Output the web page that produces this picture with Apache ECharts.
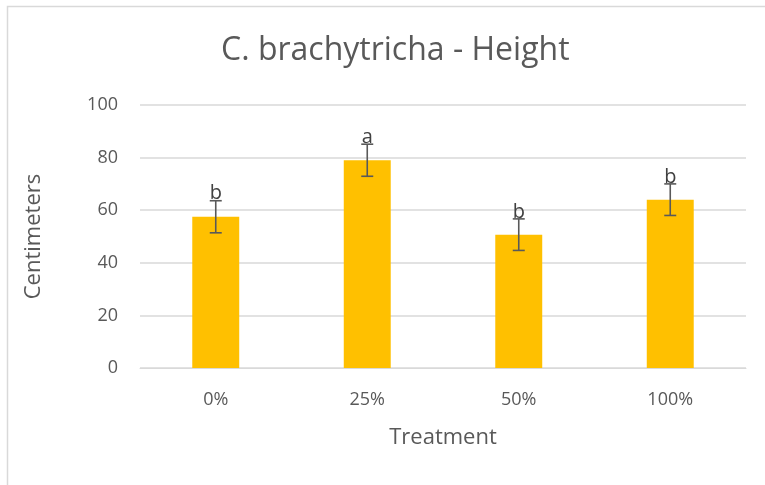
<!DOCTYPE html>
<html>
<head>
<meta charset="utf-8">
<script src="https://cdn.jsdelivr.net/npm/echarts@6/dist/echarts.min.js"></script>
<style>
    html, body { margin: 0; padding: 0; background: #fff; }
    #chart { width: 765px; height: 485px; }
</style>
</head>
<body>
<div id="chart"></div>
<script>
    // data
    var treatments = ['0%', '25%', '50%', '100%'];
    var heights = [57.5, 79, 50.7, 64];
    var errors = [6.1, 6.1, 6, 6];
    var letters = ['b', 'a', 'b', 'b'];

    var chart = echarts.init(document.getElementById('chart'));
    var font = 'Open Sans';

    var errData = treatments.map(function (t, i) {
        return [i, heights[i] - errors[i], heights[i] + errors[i], letters[i]];
    });

    chart.setOption({
        animation: false,
        textStyle: { fontFamily: font },
        title: {
            text: 'C. brachytricha - Height',
            left: 216,
            top: 30,
            textStyle: { fontFamily: font, fontSize: 32, fontWeight: 'normal', color: '#595959' }
        },
        graphic: [{
            type: 'rect',
            shape: { x: 7.5, y: 6.5, width: 800, height: 520 },
            style: { fill: 'none', stroke: '#d9d9d9', lineWidth: 1.5 },
            silent: true
        }],
        grid: { left: 140, right: 19, top: 105, bottom: 117 },
        xAxis: {
            type: 'category',
            data: treatments,
            name: 'Treatment',
            nameLocation: 'middle',
            nameGap: 59,
            nameTextStyle: { fontSize: 22, color: '#595959' },
            axisLine: { lineStyle: { color: '#d9d9d9' } },
            axisTick: { show: false },
            axisLabel: { fontSize: 18, color: '#595959', margin: 23 }
        },
        yAxis: {
            type: 'value',
            min: 0,
            max: 100,
            interval: 20,
            name: 'Centimeters',
            nameLocation: 'middle',
            nameGap: 95,
            nameTextStyle: { fontSize: 22, color: '#595959' },
            axisLine: { show: false },
            axisTick: { show: false },
            axisLabel: { fontSize: 18, color: '#595959', margin: 22 },
            splitLine: { lineStyle: { color: '#d9d9d9', width: 1.5 } }
        },
        series: [
            {
                type: 'bar',
                data: heights,
                barWidth: '31%',
                itemStyle: { color: '#ffc000' }
            },
            {
                type: 'custom',
                data: errData,
                z: 10,
                renderItem: function (params, api) {
                    var lo = api.coord([api.value(0), api.value(1)]);
                    var hi = api.coord([api.value(0), api.value(2)]);
                    var cap = 6;
                    var st = { stroke: '#595959', lineWidth: 1.6 };
                    return {
                        type: 'group',
                        children: [
                            { type: 'line', shape: { x1: hi[0], y1: hi[1], x2: lo[0], y2: lo[1] }, style: st },
                            { type: 'line', shape: { x1: hi[0] - cap, y1: hi[1], x2: hi[0] + cap, y2: hi[1] }, style: st },
                            { type: 'line', shape: { x1: lo[0] - cap, y1: lo[1], x2: lo[0] + cap, y2: lo[1] }, style: st },
                            {
                                type: 'text',
                                style: {
                                    text: letters[params.dataIndex],
                                    x: hi[0],
                                    y: hi[1] + 3,
                                    align: 'center',
                                    verticalAlign: 'bottom',
                                    font: '20px "Open Sans"',
                                    fill: '#404040'
                                }
                            }
                        ]
                    };
                }
            }
        ]
    });
</script>
</body>
</html>
